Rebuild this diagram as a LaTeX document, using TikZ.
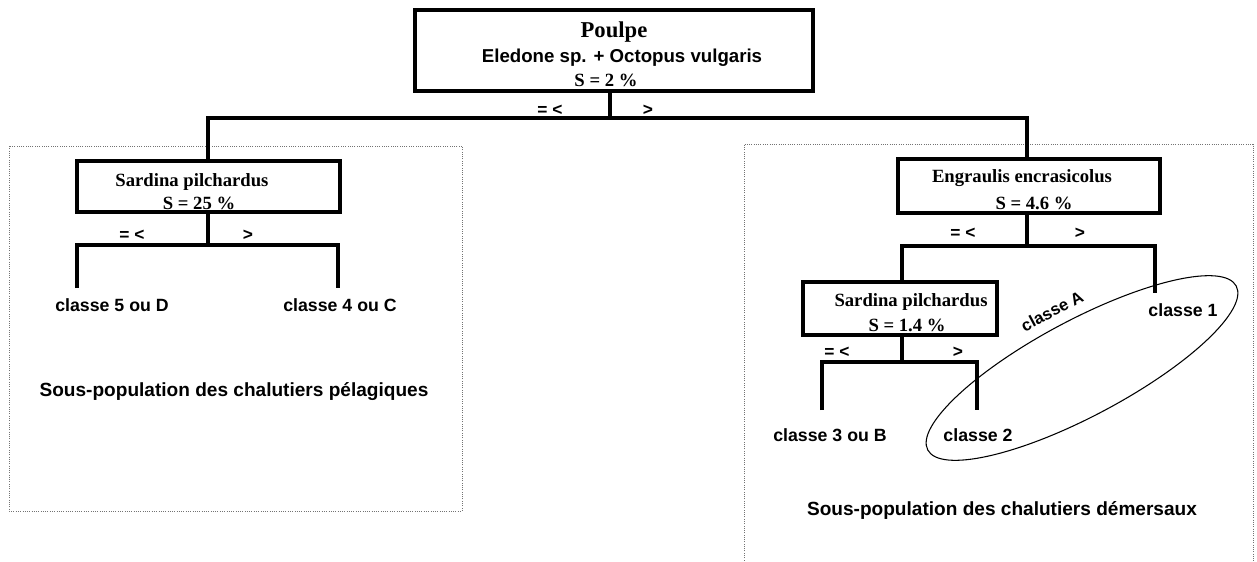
\documentclass[tikz,border=0pt]{standalone}
\usepackage{fontspec}
\setmainfont{Liberation Serif}
\setsansfont{Liberation Sans}
\usetikzlibrary{shapes.geometric}
\begin{document}
\begin{tikzpicture}[x=0.75pt,y=-0.75pt,
  boxnode/.style={draw, rectangle, line width=2.7pt, inner sep=0pt},
  tree/.style={line width=3pt},
  zone/.style={draw=black!55, densely dotted, line width=0.7pt},
  ser/.style={font=\rmfamily\bfseries\fontsize{14}{16}\selectfont, inner sep=0pt},
  sfb/.style={font=\sffamily\bfseries\fontsize{13.3}{15}\selectfont, inner sep=0pt},
  lbl/.style={font=\sffamily\bfseries\fontsize{13}{15}\selectfont, inner sep=0pt},
  title/.style={font=\sffamily\bfseries\fontsize{14.3}{17}\selectfont, inner sep=0pt}]
\useasboundingbox (0,0) rectangle (1257,561);

% dotted sub-population zones
\draw[zone] (9,146) rectangle (462,511);
\draw[zone] (744,565) -- (744,144) -- (1253,144) -- (1253,565);

% boxes
\node[boxnode, minimum width=298.5pt, minimum height=60.75pt] (top) at (614,50.5) {};
\node[boxnode, minimum width=197.25pt, minimum height=38.25pt] (sar1) at (208.5,186.5) {};
\node[boxnode, minimum width=196.5pt, minimum height=40.5pt] (eng) at (1029,186) {};
\node[boxnode, minimum width=145.5pt, minimum height=39.75pt] (sar2) at (900,308.5) {};

% box texts
\node[ser, font=\rmfamily\bfseries\fontsize{17}{19}\selectfont] (t1) at (614,32) {Poulpe};
\node[sfb, font=\sffamily\bfseries\fontsize{14}{16}\selectfont] (t2) at (622,58) {Eledone sp. + Octopus vulgaris};
\node[ser] (t3) at (606,80) {S = 2 \%};
\node[ser] (s1a) at (192,182) {Sardina pilchardus};
\node[ser] (s1b) at (199,203) {S = 25 \%};
\node[ser] (e1a) at (1022,178) {Engraulis encrasicolus};
\node[ser] (e1b) at (1034,203) {S = 4.6 \%};
\node[ser] (s2a) at (911,302) {Sardina pilchardus};
\node[ser] (s2b) at (907,325) {S = 1.4 \%};

% junctions and leaf ends
\coordinate (j0) at (610,118);
\coordinate (j1) at (208,245);
\coordinate (j2) at (1027,246);
\coordinate (j3) at (902,362);
\coordinate (e5) at (77,288);
\coordinate (e4) at (338,288);
\coordinate (e1) at (1155,293);
\coordinate (e3) at (822,410);
\coordinate (e2) at (977,410);

% tree connectors
\draw[tree] (top.south -| j0) -- (j0);
\draw[tree] (sar1.north -| j1) |- (j0) -| (eng.north -| j2);
\draw[tree] (sar1.south -| j1) -- (j1);
\draw[tree] (e5) |- (j1) -| (e4);
\draw[tree] (eng.south -| j2) -- (j2);
\draw[tree] (sar2.north -| j3) |- (j2) -| (e1);
\draw[tree] (sar2.south -| j3) -- (j3);
\draw[tree] (e3) |- (j3) -| (e2);

% branch labels
\node[lbl] (c0l) at (550,110) {= <};
\node[lbl] (c0r) at (648,110) {>};
\node[lbl] (c1l) at (132,235) {= <};
\node[lbl] (c1r) at (248,235) {>};
\node[lbl] (c2l) at (963,233) {= <};
\node[lbl] (c2r) at (1080,233) {>};
\node[lbl] (c3l) at (837,352) {= <};
\node[lbl] (c3r) at (958,352) {>};

% leaves
\node[sfb] (k5) at (112,305) {classe 5 ou D};
\node[sfb] (k4) at (340,305) {classe 4 ou C};
\node[sfb] (k1) at (1183,310) {classe 1};
\node[sfb] (k3) at (830,435) {classe 3 ou B};
\node[sfb] (k2) at (978,435) {classe 2};

% group ellipse
\node[draw, ellipse, line width=0.8pt, inner sep=0pt, minimum width=262pt, minimum height=72pt, rotate=28] (grp) at (1082,368) {};
\node[lbl, font=\sffamily\bfseries\fontsize{12.5}{14}\selectfont, rotate=28] (kA) at (1052,311) {classe A};

% sub-population titles
\node[title] (pel) at (234,392) {Sous-population des chalutiers pélagiques};
\node[title] (dem) at (1002,510) {Sous-population des chalutiers démersaux};
\end{tikzpicture}
\end{document}
